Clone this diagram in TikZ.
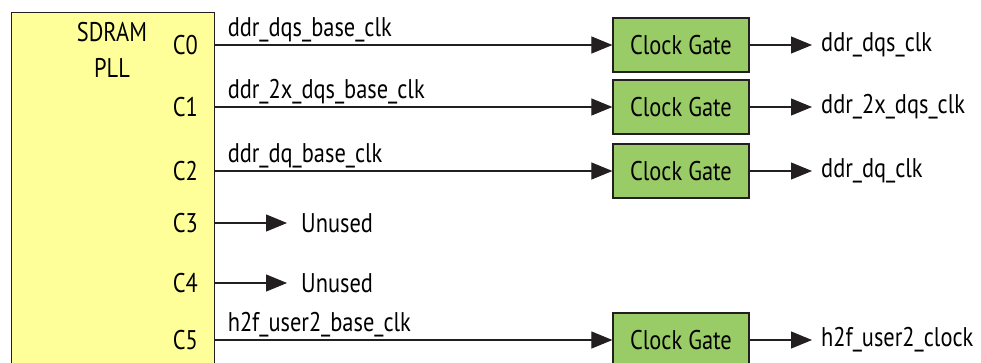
\documentclass[tikz,border=0pt]{standalone}
\usepackage{fontspec}
\setmainfont{PT Sans}[FakeStretch=0.83]
\usepackage{tikz}
\usetikzlibrary{arrows.meta}
\usetikzlibrary{positioning}

\definecolor{ink}{HTML}{231F20}
\definecolor{pllyellow}{HTML}{FFFF99}
\definecolor{gategreen}{HTML}{99CC66}

\begin{document}
\begin{tikzpicture}[x=1pt, y=-1pt, font=\fontsize{27}{36}\selectfont]
    \tikzstyle{pll} = [draw=ink, fill=pllyellow, line width=1.2pt, rectangle, anchor=north west, minimum width=203pt, minimum height=370pt, inner sep=0pt];
    \tikzstyle{gate} = [draw=ink, fill=gategreen, line width=1.2pt, rectangle, minimum width=136pt, minimum height=54pt, inner sep=0pt];
    \tikzstyle{port} = [anchor=east, inner sep=0pt];
    \tikzstyle{sig} = [pos=0, anchor=base west, inner sep=0pt, xshift=12pt, yshift=9pt];
    \tikzstyle{outlbl} = [anchor=west, inner xsep=9pt, inner ysep=0pt];
    \tikzstyle{line} = [draw=ink, line width=1.1pt, -{Triangle[length=21pt, width=17pt]}];
    \useasboundingbox (0,0) rectangle (981,362);
    \clip (0,0) rectangle (981,362);

    \node[pll] (pll) at (11,12) {};
    \node[align=center, inner sep=0pt] (pllname) at (112,50) {SDRAM\\PLL};
    \foreach \i/\y in {0/45, 1/107, 2/171, 3/223, 4/283, 5/340}
        \node[port] (c\i) at (198,\y) {C\i};

    \node[gate] (g0) at (681,45) {Clock Gate};
    \node[gate] (g1) at (681,107) {Clock Gate};
    \node[gate] (g2) at (681,171) {Clock Gate};
    \node[gate] (g5) at (681,340) {Clock Gate};

    \node[outlbl] (o0) at (812,45) {ddr\_dqs\_clk};
    \node[outlbl] (o1) at (812,107) {ddr\_2x\_dqs\_clk};
    \node[outlbl] (o2) at (812,171) {ddr\_dq\_clk};
    \node[outlbl] (o5) at (812,340) {h2f\_user2\_clock};
    \node[outlbl, inner xsep=14pt] (u3) at (287,223) {Unused};
    \node[outlbl, inner xsep=14pt] (u4) at (287,283) {Unused};

    \tikzstyle{every path}=[line]
    \path (c0 -| pll.east) -- node[sig] {ddr\_dqs\_base\_clk} (g0);
    \path (c1 -| pll.east) -- node[sig] {ddr\_2x\_dqs\_base\_clk} (g1);
    \path (c2 -| pll.east) -- node[sig] {ddr\_dq\_base\_clk} (g2);
    \path (c5 -| pll.east) -- node[sig] {h2f\_user2\_base\_clk} (g5);
    \path (c3 -| pll.east) -- (u3);
    \path (c4 -| pll.east) -- (u4);
    \path (g0) -- (o0);
    \path (g1) -- (o1);
    \path (g2) -- (o2);
    \path (g5) -- (o5);
\end{tikzpicture}
\end{document}
